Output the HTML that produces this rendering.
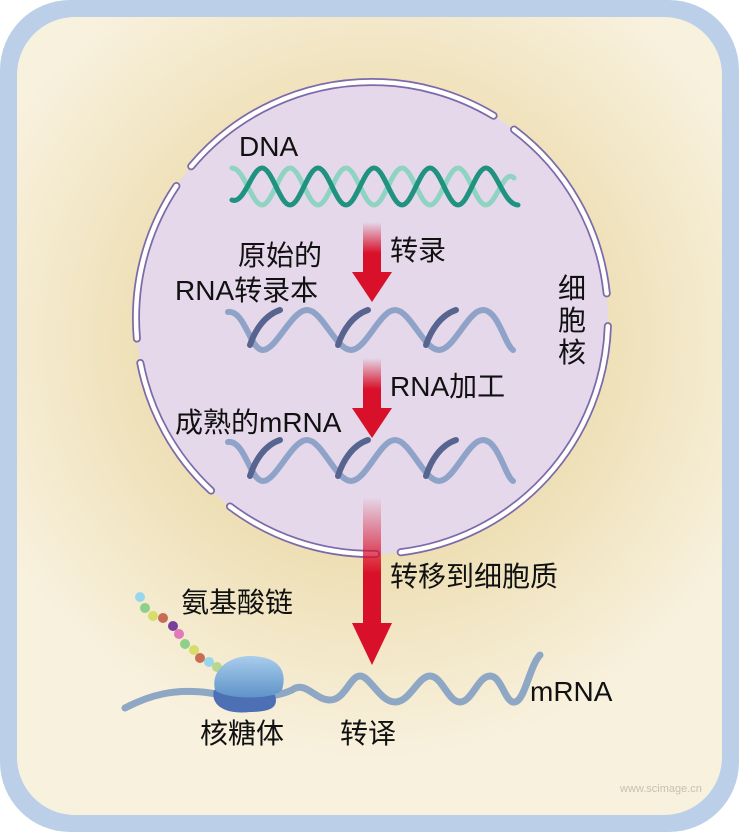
<!DOCTYPE html>
<html><head><meta charset="utf-8"><style>
html,body{margin:0;padding:0;background:#fff}
svg{display:block}
text{font-family:"Liberation Sans","Noto Sans CJK SC",sans-serif;fill:#111}
</style></head><body>
<svg width="739" height="832" viewBox="0 0 739 832" xmlns="http://www.w3.org/2000/svg">
<defs>
<radialGradient id="bg" cx="372" cy="340" r="420" gradientUnits="userSpaceOnUse">
<stop offset="0.45" stop-color="#ecdcae"/><stop offset="1" stop-color="#f8f1de"/>
</radialGradient>
<linearGradient id="ar" x1="0" y1="0" x2="0" y2="1">
<stop offset="0" stop-color="#d8102a" stop-opacity="0"/><stop offset="0.6" stop-color="#d8102a"/><stop offset="1" stop-color="#d8102a"/>
</linearGradient>
<linearGradient id="rib" x1="0" y1="0" x2="0" y2="1">
<stop offset="0" stop-color="#a9cdec"/><stop offset="1" stop-color="#5f93c8"/>
</linearGradient>
</defs>
<rect x="0" y="0" width="739" height="832" rx="70" fill="#bccfe9"/>
<rect x="17" y="17" width="705" height="798" rx="58" fill="url(#bg)"/>
<circle cx="372" cy="318" r="236" fill="#e5d8ea"/>
<circle cx="372" cy="318" r="236" fill="none" stroke="#7c6aa9" stroke-width="8" stroke-linecap="round" stroke-dasharray="333.6 24.7 156.5 24.7 148.3 24.7 160.6 24.7 333.6 24.7 193.6 33" stroke-dashoffset="-8.24"/>
<circle cx="372" cy="318" r="236" fill="none" stroke="#ffffff" stroke-width="4.5" stroke-linecap="round" stroke-dasharray="333.6 24.7 156.5 24.7 148.3 24.7 160.6 24.7 333.6 24.7 193.6 33" stroke-dashoffset="-8.24"/>
<g fill="none" stroke-width="5" stroke-linecap="round">
<path d="M232,168 C244,168 252,205 262,205 S280,168 290,168 S308,205 318,205 S336,168 346,168 S364,205 374,205 S392,168 402,168 S420,205 430,205 S448,168 458,168 S476,205 486,205 S504,168 514,178" stroke="#8fd3c2"/>
<path d="M232,200 C244,205 252,168 262,168 S280,205 290,205 S308,168 318,168 S336,205 346,205 S364,168 374,168 S392,205 402,205 S420,168 430,168 S448,205 458,205 S476,168 486,168 S504,205 518,205" stroke="#1f9280"/>
</g>
<g fill="none" stroke-width="6" stroke-linecap="round">
<path d="M228,312 C245,310 250,350 263,350 S292,310 307,310 S336,350 351,350 S380,310 395,310 S424,350 439,350 S468,310 483,310 S505,345 513,350" stroke="#8fa3c8"/>
<path d="M228,442 C245,440 250,481 263,481 S292,440 307,440 S336,481 351,481 S380,440 395,440 S424,481 439,481 S468,440 483,440 S505,476 513,481" stroke="#8fa3c8"/>
</g>
<g fill="none" stroke="#56648f" stroke-width="6" stroke-linecap="round">
<path d="M250,345 C255,330 265,315 280,310"/><path d="M338,345 C343,330 353,315 368,310"/><path d="M426,345 C431,330 441,315 456,310"/>
<path d="M250,476 C255,460 265,445 280,440"/><path d="M338,476 C343,460 353,445 368,440"/><path d="M426,476 C431,460 441,445 456,440"/>
</g>
<rect x="363" y="222" width="18" height="52" fill="url(#ar)"/>
<polygon points="352,272 392,272 372,302" fill="#d8102a"/>
<rect x="363" y="358" width="18" height="52" fill="url(#ar)"/>
<polygon points="352,408 392,408 372,438" fill="#d8102a"/>
<rect x="363" y="497" width="18" height="128" fill="url(#ar)"/>
<polygon points="352,623 392,623 372,665" fill="#d8102a"/>
<path d="M125,708 C150,695 175,688 210,693 S270,700 292,690 C305,680 315,700 330,700 S350,676 360,676 S380,702 395,702 S418,676 430,676 S448,702 460,702 S478,676 490,676 S505,704 515,702 S530,665 540,655" fill="none" stroke="#8ea7c4" stroke-width="7" stroke-linecap="round"/>
<g>
<circle cx="140" cy="597" r="5" fill="#9ad6ea"/><circle cx="145" cy="608" r="5" fill="#8fcf8a"/>
<circle cx="153" cy="616" r="5" fill="#d7dc6a"/><circle cx="163" cy="618" r="5" fill="#c96c55"/>
<circle cx="173" cy="626" r="5" fill="#7a3f9a"/><circle cx="179" cy="634" r="5" fill="#e07ab8"/>
<circle cx="185" cy="644" r="5" fill="#8fcf8a"/><circle cx="194" cy="650" r="5" fill="#d7dc6a"/>
<circle cx="200" cy="658" r="5" fill="#c96c55"/><circle cx="209" cy="662" r="5" fill="#9ad6ea"/>
<circle cx="217" cy="667" r="5" fill="#b8d78a"/>
</g>
<path d="M214,690 C210,705 225,715 250,712 C275,712 278,705 275,695 Z" fill="#4d6fb3"/>
<path d="M215,690 C210,668 232,655 252,656 C278,657 288,670 282,690 C275,700 225,700 215,690 Z" fill="url(#rib)"/>
<g font-size="28">
<text x="239" y="156">DNA</text>
<text x="238" y="265">原始的</text>
<text x="175" y="300">RNA转录本</text>
<text x="390" y="260">转录</text>
<text x="390" y="396">RNA加工</text>
<text x="175" y="432">成熟的mRNA</text>
<text x="558" y="298">细</text>
<text x="558" y="330">胞</text>
<text x="558" y="362">核</text>
<text x="390" y="586">转移到细胞质</text>
<text x="181" y="612">氨基酸链</text>
<text x="200" y="743">核糖体</text>
<text x="340" y="743">转译</text>
<text x="530" y="701">mRNA</text>
</g>
<text x="620" y="792" font-size="11" style="fill:#c9c0b0">www.scimage.cn</text>
</svg>
</body></html>
